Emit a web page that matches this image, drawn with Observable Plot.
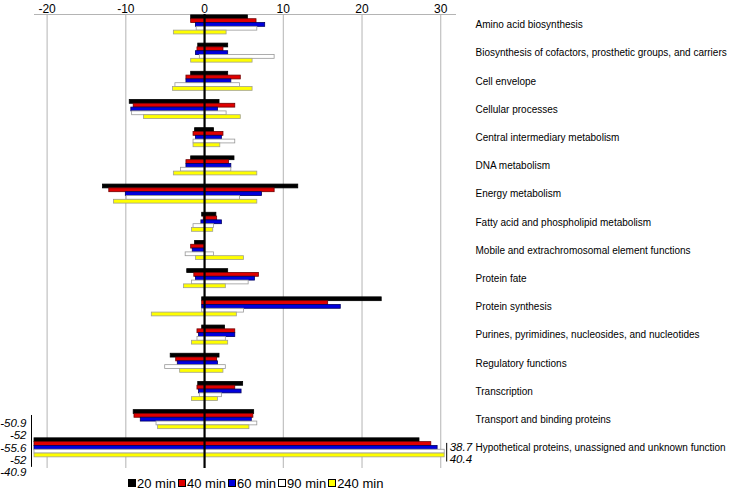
<!DOCTYPE html>
<html><head><meta charset="utf-8">
<script src="https://cdn.jsdelivr.net/npm/d3@7"></script>
<script src="https://cdn.jsdelivr.net/npm/@observablehq/plot@0.6"></script>
<style>
body{margin:0;background:#fff;font-family:"Liberation Sans",Arial,sans-serif;}
#chart svg{display:block;overflow:visible;}
[aria-label^="y-axis"] text{font-size:10px;}
#legend{display:flex;align-items:center;margin-left:128px;height:14px;font-size:13px;color:#000;}
#legend .item{display:flex;align-items:center;margin-right:2px;}
#legend .sw{width:8px;height:8px;box-sizing:border-box;border:1px solid #000;margin-right:1px;}
</style></head><body>
<div id="chart"></div>
<div id="legend"></div>
<script>
const categories = [
  "Amino acid biosynthesis",
  "Biosynthesis of cofactors, prosthetic groups, and carriers",
  "Cell envelope",
  "Cellular processes",
  "Central intermediary metabolism",
  "DNA metabolism",
  "Energy metabolism",
  "Fatty acid and phospholipid metabolism",
  "Mobile and extrachromosomal element functions",
  "Protein fate",
  "Protein synthesis",
  "Purines, pyrimidines, nucleosides, and nucleotides",
  "Regulatory functions",
  "Transcription",
  "Transport and binding proteins",
  "Hypothetical proteins, unassigned and unknown function"
];
const series = ["20 min", "40 min", "60 min", "90 min", "240 min"];
const xTicks = [-20, -10, 0, 10, 20, 30];

const down20  = [-1.7, -0.8, -1.7, -9.5, -1.2, -1.7, -12.9, -0.3, -1.2, -2.2, -0.3, -0.3, -4.3, -0.8, -9.0, -50.9];
const up20    = [5.5, 3.0, 3.0, 1.9, 1.2, 3.8, 11.9, 1.5, 0, 3.0, 22.5, 2.6, 1.9, 4.9, 6.3, 27.3];
const down40  = [-1.7, -0.9, -2.3, -9.0, -1.4, -2.3, -12.1, -0.1, -1.7, -1.3, -0.3, -0.9, -3.6, -0.9, -8.9, -52];
const up40    = [6.6, 2.4, 4.6, 3.9, 2.4, 3.1, 8.9, 1.6, 0, 6.9, 15.7, 3.9, 1.6, 3.9, 6.2, 28.8];
const down60  = [-1.1, -1.1, -2.3, -9.3, -1.1, -2.3, -10.0, -0.4, -1.5, -1.1, -0.3, -0.7, -3.4, -0.7, -8.1, -55.6];
const up60    = [7.7, 3.0, 3.4, 1.7, 2.2, 3.4, 7.3, 2.2, 0, 6.4, 17.3, 3.9, 1.7, 4.7, 6.0, 29.6];
const down90  = [-1.0, -0.6, -3.7, -9.2, -1.4, -3.0, -9.9, -1.4, -2.4, -1.6, -0.3, -0.9, -5.0, -0.6, -6.1, -52];
const up90    = [6.7, 8.9, 4.5, 2.8, 3.9, 3.4, 4.5, 1.2, 1.2, 5.6, 5.0, 2.7, 2.7, 2.2, 6.7, 38.7];
const down240 = [-3.9, -1.7, -4.0, -7.7, -1.4, -3.9, -11.5, -1.6, -1.1, -2.6, -6.7, -1.6, -3.1, -1.6, -5.9, -40.9];
const up240   = [2.8, 6.1, 6.1, 4.6, 2.0, 6.7, 6.7, 1.1, 5.0, 2.7, 4.1, 3.0, 2.4, 1.7, 5.7, 40.4];

const fills   = ["#000000", "#e00000", "#0000dd", "#ffffff", "#ffff00"];
const strokes = ["#000000", "#700000", "#000060", "#999999", "#a0a090"];

const downs = [down20, down40, down60, down90, down240];
const ups = [up20, up40, up60, up90, up240];

const W = 734, H = 476;
const xMin = -21.6, xMax = 32, clipMax = 30.5;
const yTop = -0.372, yBottom = 15.73;
const barStep = 0.135, groupOff = -0.34;

const rows = [];
categories.forEach((c, i) => series.forEach((s, j) => {
  rows.push({cat: i, s: j, lo: Math.max(xMin, downs[j][i]), hi: Math.min(clipMax, ups[j][i])});
}));
const last = categories.length - 1;
const leftLabels = series.map((s, j) => ({j, v: downs[j][last]})).filter(d => d.v < xMin);
const rightLabels = series.map((s, j) => ({j, v: ups[j][last]})).filter(d => d.v > clipMax).map((d, k) => ({...d, k}));

const chart = Plot.plot({
  width: W, height: H,
  marginLeft: 34, marginRight: W - 456, marginTop: 14, marginBottom: H - 468,
  style: {fontFamily: "Liberation Sans, Arial, sans-serif", fontSize: "12px", color: "#000", background: "#fff"},
  x: {domain: [xMin, xMax], axis: "top", ticks: xTicks, tickSize: 0, tickPadding: 2, label: null, tickFormat: d => String(d)},
  y: {type: "linear", domain: [yBottom, yTop], axis: "right", ticks: categories.map((_, i) => i),
      tickFormat: i => categories[i], tickSize: 0, tickPadding: 19, label: null},
  color: {type: "identity"},
  marks: [
    Plot.ruleX(xTicks, {stroke: "#b4b4b4", strokeWidth: 1}),
    Plot.ruleY([yTop], {stroke: "#b4b4b4", strokeWidth: 1}),
    Plot.rect(rows, {
      x1: "lo", x2: "hi",
      y1: d => d.cat + groupOff + d.s * barStep,
      y2: d => d.cat + groupOff + (d.s + 1) * barStep,
      fill: d => fills[d.s], stroke: d => strokes[d.s], strokeWidth: 0.8
    }),
    Plot.ruleX([0], {stroke: "#000", strokeWidth: 2.2}),
    Plot.text(leftLabels, {x: xMin, y: d => last + (d.j - 2) * 0.433, text: d => String(d.v),
      textAnchor: "end", dx: -8, fontStyle: "italic", fontSize: 11.5}),
    Plot.ruleX([xMin], {dx: -3, y1: last - 1.15, y2: last + 0.69, stroke: "#000", strokeWidth: 1}),
    Plot.text(rightLabels, {x: clipMax, y: d => last - 0.02 + d.k * 0.41, text: d => String(d.v),
      textAnchor: "start", dx: 5, fontStyle: "italic", fontSize: 11.5}),
    Plot.ruleX([clipMax], {dx: 2, y1: last - 0.16, y2: last + 0.5, stroke: "#000", strokeWidth: 1})
  ]
});
document.getElementById("chart").appendChild(chart);

const legend = document.getElementById("legend");
series.forEach((s, j) => {
  const it = document.createElement("div"); it.className = "item";
  const sw = document.createElement("span"); sw.className = "sw"; sw.style.background = fills[j];
  const tx = document.createElement("span"); tx.textContent = s;
  it.appendChild(sw); it.appendChild(tx); legend.appendChild(it);
});
</script>
</body></html>
